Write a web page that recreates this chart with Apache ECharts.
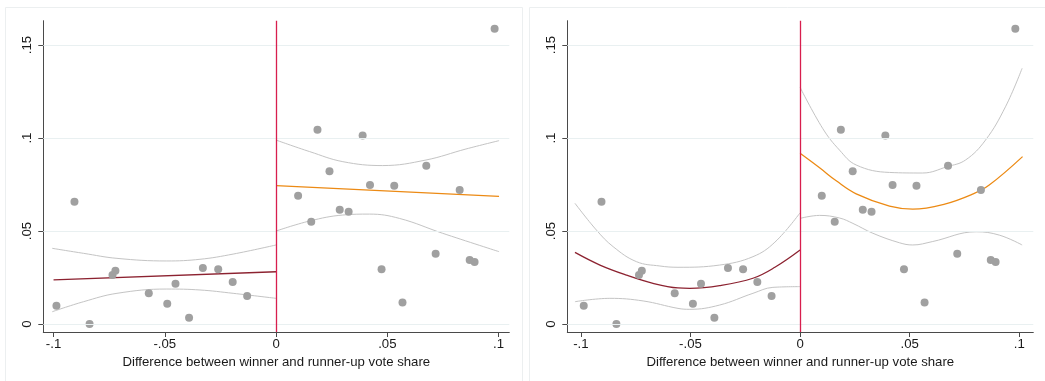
<!DOCTYPE html>
<html>
<head>
<meta charset="utf-8">
<script src="https://cdn.jsdelivr.net/npm/echarts@6/dist/echarts.min.js"></script>
<style>
  html, body { margin: 0; padding: 0; background: #fff; }
  #chart { width: 1045px; height: 381px; }
</style>
</head>
<body>
<div id="chart"></div>
<script>
// Tick positions and their printed labels
const xTickValues = [-0.1, -0.05, 0, 0.05, 0.1];
const xTickLabels = ['-.1', '-.05', '0', '.05', '.1'];
const yTickValues = [0, 0.05, 0.1, 0.15];
const yTickLabels = ['0', '.05', '.1', '.15'];
const xTitle = 'Difference between winner and runner-up vote share';

// Binned observations: vote-share margin and outcome
const margin = [
  -0.0987, -0.0906, -0.0838, -0.0735, -0.0722, -0.0572, -0.0489, -0.0452, -0.0391,
  -0.0329, -0.0260, -0.0195, -0.0130,
  0.0099, 0.0158, 0.0186, 0.0240, 0.0286, 0.0326, 0.0389, 0.0422, 0.0474, 0.0531,
  0.0568, 0.0675, 0.0717, 0.0825, 0.0870, 0.0892, 0.0982
];
const outcome = [
  0.0098, 0.0658, 0.0000, 0.0263, 0.0287, 0.0165, 0.0109, 0.0217, 0.0034,
  0.0301, 0.0294, 0.0226, 0.0151,
  0.0690, 0.0550, 0.1045, 0.0821, 0.0615, 0.0604, 0.1014, 0.0747, 0.0294, 0.0744,
  0.0115, 0.0851, 0.0378, 0.0720, 0.0344, 0.0333, 0.1588
];

// Linear fits with 95% bands (left panel)
const linFitBelow = [[-0.1, 0.0237], [0, 0.0281]];
const linHiBelow = [[-0.1006, 0.0407], [-0.0865, 0.0380], [-0.0715, 0.0353], [-0.0491, 0.0339],
  [-0.0342, 0.0348], [-0.0193, 0.0376], [0, 0.0425]];
const linLoBelow = [[-0.1006, 0.0066], [-0.0865, 0.0120], [-0.0715, 0.0165], [-0.0491, 0.0188],
  [-0.0342, 0.0183], [-0.0193, 0.0165], [0, 0.0138]];
const linFitAbove = [[0, 0.0744], [0.1002, 0.0686]];
const linHiAbove = [[0, 0.0989], [0.0151, 0.0927], [0.0300, 0.0873], [0.0479, 0.0852],
  [0.0674, 0.0882], [0.0853, 0.0941], [0.1002, 0.0986]];
const linLoAbove = [[0, 0.0500], [0.0151, 0.0554], [0.0300, 0.0586], [0.0420, 0.0591],
  [0.0554, 0.0568], [0.0748, 0.0488], [0.1002, 0.0389]];

// Quadratic fits with 95% bands (right panel)
const quadFitBelow = [[-0.1027, 0.0385], [-0.0913, 0.0317], [-0.0792, 0.0263], [-0.0671, 0.0219],
  [-0.0557, 0.0194], [-0.0503, 0.0192], [-0.0367, 0.0206], [-0.0215, 0.0246], [-0.0115, 0.0305],
  [0, 0.0398]];
const quadHiBelow = [[-0.1027, 0.0649], [-0.0929, 0.0505], [-0.0853, 0.0416], [-0.0746, 0.0335],
  [-0.0640, 0.0312], [-0.0557, 0.0305], [-0.0367, 0.0317], [-0.0215, 0.0362], [-0.0115, 0.0440],
  [0, 0.0598]];
const quadLoBelow = [[-0.1027, 0.0120], [-0.0868, 0.0138], [-0.0716, 0.0124], [-0.0557, 0.0084],
  [-0.0503, 0.0079], [-0.0367, 0.0102], [-0.0215, 0.0165], [-0.0124, 0.0197], [0, 0.0201]];
const quadFitAbove = [[0, 0.0918], [0.0089, 0.0840], [0.0165, 0.0770], [0.0256, 0.0700],
  [0.0408, 0.0634], [0.0514, 0.0618], [0.0660, 0.0645], [0.0790, 0.0700], [0.0863, 0.0747],
  [0.1015, 0.0900]];
const quadHiAbove = [[0, 0.1273], [0.0104, 0.1050], [0.0180, 0.0935], [0.0256, 0.0855],
  [0.0408, 0.0815], [0.0559, 0.0812], [0.0671, 0.0846], [0.0755, 0.0882], [0.0846, 0.0989],
  [0.0937, 0.1168], [0.1013, 0.1375]];
const quadLoAbove = [[0, 0.0568], [0.0089, 0.0584], [0.0180, 0.0570], [0.0241, 0.0541],
  [0.0332, 0.0488], [0.0453, 0.0437], [0.0514, 0.0425], [0.0603, 0.0443], [0.0803, 0.0496],
  [0.0909, 0.0478], [0.1013, 0.0425]];

const FONT = 'Liberation Sans, Arial, sans-serif';
const TEXT_COLOR = '#1a1a1a';
const AXIS_COLOR = '#4a4a4a';
const GRID_COLOR = '#e9f0f1';
const BAND_COLOR = '#c4c4c4';
const DOT_COLOR = '#a0a0a0';
const BELOW_COLOR = '#8c2230';
const ABOVE_COLOR = '#ec8a14';
const CUTOFF_COLOR = '#d81e4e';

const points = margin.map((m, i) => [m, outcome[i]]);

const panels = [
  { left: 43.3, xMin: -0.1046, xMax: 0.1048,
    fits: [[linFitBelow, linHiBelow, linLoBelow], [linFitAbove, linHiAbove, linLoAbove]] },
  { left: 567.3, xMin: -0.1062, xMax: 0.1064,
    fits: [[quadFitBelow, quadHiBelow, quadLoBelow], [quadFitAbove, quadHiAbove, quadLoAbove]] }
];

const grids = [], xAxes = [], yAxes = [], series = [];

panels.forEach((p, k) => {
  grids.push({ left: p.left, top: 20.7, width: 466, height: 311.3 });
  xAxes.push({
    type: 'value', gridIndex: k, min: p.xMin, max: p.xMax,
    name: xTitle, nameLocation: 'middle', nameGap: 20,
    nameTextStyle: { fontFamily: FONT, fontSize: 13.2, color: TEXT_COLOR },
    axisLine: { onZero: false, lineStyle: { color: AXIS_COLOR, width: 1 } },
    axisTick: { customValues: xTickValues, length: 5, lineStyle: { color: AXIS_COLOR } },
    axisLabel: {
      customValues: xTickValues, margin: 6,
      fontFamily: FONT, fontSize: 13.2, color: TEXT_COLOR,
      formatter: v => xTickLabels[xTickValues.findIndex(t => Math.abs(t - v) < 1e-9)]
    },
    splitLine: { show: false }
  });
  yAxes.push({
    type: 'value', gridIndex: k, min: -0.0043, max: 0.1631,
    axisLine: { onZero: false, lineStyle: { color: AXIS_COLOR, width: 1 } },
    axisTick: { customValues: yTickValues, length: 5, lineStyle: { color: AXIS_COLOR } },
    axisLabel: {
      customValues: yTickValues, rotate: 90, margin: 9,
      fontFamily: FONT, fontSize: 13.2, color: TEXT_COLOR,
      formatter: v => yTickLabels[yTickValues.findIndex(t => Math.abs(t - v) < 1e-9)]
    },
    splitLine: { show: false }
  });

  // horizontal reference lines at the labelled y values
  series.push({
    type: 'line', xAxisIndex: k, yAxisIndex: k, data: [], z: 1, silent: true,
    markLine: {
      symbol: 'none', silent: true, label: { show: false },
      lineStyle: { color: GRID_COLOR, width: 1, type: 'solid' },
      data: yTickValues.map(v => ({ yAxis: v }))
    }
  });

  p.fits.forEach((side, s) => {
    const [fit, hi, lo] = side;
    [hi, lo].forEach(band => series.push({
      type: 'line', xAxisIndex: k, yAxisIndex: k, data: band, smooth: 0.4,
      showSymbol: false, z: 2, lineStyle: { color: BAND_COLOR, width: 1 }
    }));
    series.push({
      type: 'line', xAxisIndex: k, yAxisIndex: k, data: fit, smooth: 0.4,
      showSymbol: false, z: 3,
      lineStyle: { color: s === 0 ? BELOW_COLOR : ABOVE_COLOR, width: 1.3 }
    });
  });

  series.push({
    type: 'scatter', xAxisIndex: k, yAxisIndex: k, data: points, z: 4,
    symbolSize: 8, itemStyle: { color: DOT_COLOR, opacity: 1 }
  });

  // cutoff at zero margin
  series.push({
    type: 'line', xAxisIndex: k, yAxisIndex: k, data: [], z: 5, silent: true,
    markLine: {
      symbol: 'none', silent: true, label: { show: false },
      lineStyle: { color: CUTOFF_COLOR, width: 1.3, type: 'solid' },
      data: [{ xAxis: 0 }]
    }
  });
});

const chart = echarts.init(document.getElementById('chart'), null, { renderer: 'canvas' });
chart.setOption({
  animation: false,
  backgroundColor: '#ffffff',
  graphic: [
    { type: 'rect', shape: { x: 5.5, y: 7.5, width: 517, height: 400 },
      style: { fill: 'none', stroke: '#eceff0', lineWidth: 1 }, z: -1 },
    { type: 'rect', shape: { x: 529.5, y: 7.5, width: 530, height: 400 },
      style: { fill: 'none', stroke: '#eceff0', lineWidth: 1 }, z: -1 }
  ],
  grid: grids,
  xAxis: xAxes,
  yAxis: yAxes,
  series: series
});
</script>
</body>
</html>
